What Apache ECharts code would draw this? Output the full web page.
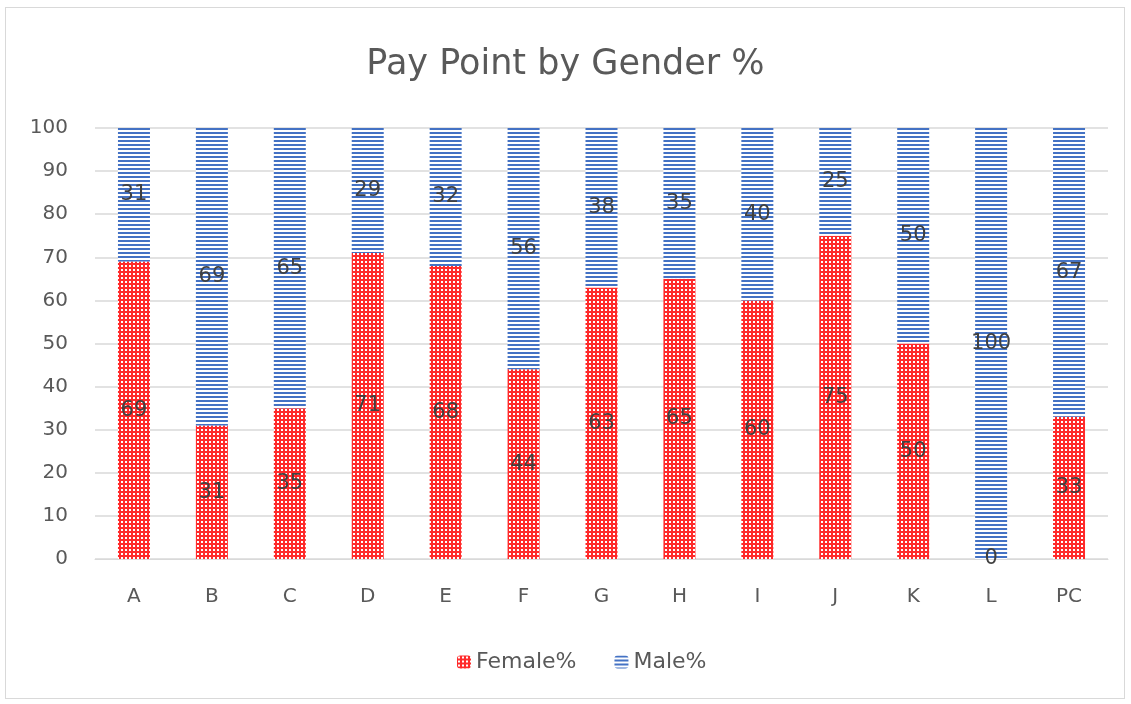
<!DOCTYPE html>
<html><head><meta charset="utf-8">
<script src="https://cdn.jsdelivr.net/npm/echarts@6/dist/echarts.min.js"></script>
<style>
html,body{margin:0;padding:0;background:#fff;}
#frame{position:absolute;left:5px;top:7px;width:1120px;height:692px;border:1px solid #d9d9d9;box-sizing:border-box;}
#c{position:absolute;left:0;top:0;width:1131px;height:704px;}
</style></head>
<body><div id="frame"></div><div id="c"></div>
<script>
const categories = ['A','B','C','D','E','F','G','H','I','J','K','L','PC'];
const female = [69,31,35,71,68,44,63,65,60,75,50,0,33];
const male = [31,69,65,29,32,56,38,35,40,25,50,100,67];
const yTicks = [0,10,20,30,40,50,60,70,80,90,100];

function femalePattern(){
  const c=document.createElement('canvas'); c.width=4; c.height=4;
  const g=c.getContext('2d');
  g.fillStyle='#ff2a2a'; g.fillRect(0,0,4,4);
  g.fillStyle='#ffffff';
  g.fillRect(1,1,2,2);
  return c;
}
function malePattern(){
  const c=document.createElement('canvas'); c.width=4; c.height=4;
  const g=c.getContext('2d');
  g.fillStyle='#ffffff'; g.fillRect(0,0,4,4);
  g.fillStyle='#4472c4'; g.fillRect(0,0,4,2);
  return c;
}
const fp = {image: femalePattern(), repeat:'repeat'};
const mp = {image: malePattern(), repeat:'repeat'};
const FONT = 'DejaVu Sans, Open Sans, sans-serif';

const chart = echarts.init(document.getElementById('c'));
const label = {show:true, position:'inside', color:'#404040', fontSize:21, fontFamily:FONT};
chart.setOption({
  animation:false,
  title:{text:'Pay Point by Gender %', left:'center', top:42, textStyle:{color:'#595959', fontSize:35, fontWeight:'normal', fontFamily:FONT}},
  grid:{left:95, right:23, top:128, bottom:145},
  legend:{top:646, left:452, itemWidth:14, itemHeight:13, itemGap:38,
    textStyle:{color:'#595959', fontSize:22, fontFamily:FONT},
    data:['Female%','Male%']},
  xAxis:{type:'category', data:categories,
    axisLine:{lineStyle:{color:'#d9d9d9'}}, axisTick:{show:false},
    axisLabel:{color:'#595959', fontSize:20, margin:28, fontFamily:FONT}},
  yAxis:{type:'value', min:0, max:100, interval:10,
    axisLine:{show:false}, axisTick:{show:false},
    splitLine:{lineStyle:{color:'#d9d9d9', width:1.5}},
    axisLabel:{color:'#595959', fontSize:20, margin:27, fontFamily:FONT,
      formatter:v=>yTicks.includes(v)?String(v):''}},
  series:[
    {name:'Female%', type:'bar', stack:'g', data:female, barWidth:32, itemStyle:{color:fp}, label:label},
    {name:'Male%', type:'bar', stack:'g', data:male, barWidth:32, itemStyle:{color:mp}, label:label}
  ]
});
</script></body></html>
